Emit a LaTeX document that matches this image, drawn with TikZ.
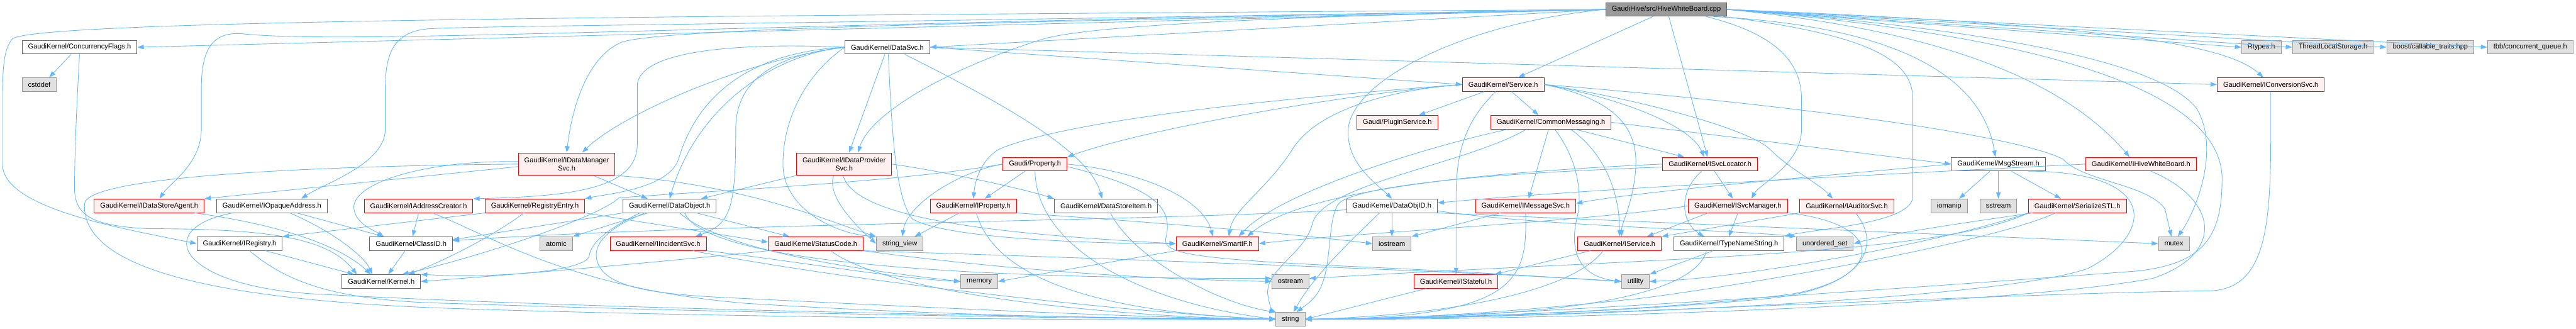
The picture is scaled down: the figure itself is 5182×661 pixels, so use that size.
\documentclass[tikz,border=0pt]{standalone}
\usepackage{fontspec}
\setmainfont{Liberation Sans}
\usepackage{tikz}
\usetikzlibrary{arrows.meta}

\definecolor{edgeblue}{HTML}{63B8FF}
\definecolor{redfill}{HTML}{FFF0F0}
\definecolor{sysfill}{HTML}{E0E0E0}
\definecolor{sysline}{HTML}{999999}
\definecolor{fileline}{HTML}{666666}
\definecolor{topfill}{HTML}{999999}

\begin{document}
\begin{tikzpicture}[x=1pt, y=-1pt,
    box/.style={rectangle, line width=1.2pt, minimum height=27.4pt, inner xsep=12pt, inner ysep=3pt, font=\fontsize{14}{17}\selectfont},
    file/.style={box, draw=fileline, fill=white},
    redfile/.style={box, draw=red, fill=redfill},
    sysfile/.style={box, draw=sysline, fill=sysfill},
    topfile/.style={box, draw=fileline, fill=topfill},
    twoline/.style={align=center, minimum height=45pt},
    dep/.style={draw=edgeblue, line width=1.1pt, -{Triangle[length=13pt,width=9pt]}}]

	% Canvas
	\fill[white] (0,0) rectangle (5182,661);
	\useasboundingbox (0,0) rectangle (5182,661);

	% The source file
	\node[topfile] (hwb) at (3352,19) {GaudiHive/src/HiveWhiteBoard.cpp};

	% Row 1
	\node[file] (conc) at (160,95) {GaudiKernel/ConcurrencyFlags.h};
	\node[file] (datasvc) at (1785,95) {GaudiKernel/DataSvc.h};
	\node[sysfile] (rtypes) at (4549,95) {Rtypes.h};
	\node[sysfile] (tls) at (4693,95) {ThreadLocalStorage.h};
	\node[sysfile] (boostct) at (4889,95) {boost/callable\_traits.hpp};
	\node[sysfile] (tbbq) at (5090,95) {tbb/concurrent\_queue.h};

	% Row 2
	\node[sysfile] (cstddef) at (79,170) {cstddef};
	\node[redfile] (service) at (3024,170) {GaudiKernel/Service.h};
	\node[redfile] (iconv) at (4568,170) {GaudiKernel/IConversionSvc.h};

	% Row 3
	\node[redfile] (plugin) at (2811,246) {Gaudi/PluginService.h};
	\node[redfile] (commsg) at (3120,246) {GaudiKernel/CommonMessaging.h};

	% Row 4
	\node[redfile, twoline] (dmgr) at (1140,330) {GaudiKernel/IDataManager\\Svc.h};
	\node[redfile, twoline] (dprov) at (1698,330) {GaudiKernel/IDataProvider\\Svc.h};
	\node[redfile] (prop) at (2082,330) {Gaudi/Property.h};
	\node[redfile] (svcloc) at (3440,330) {GaudiKernel/ISvcLocator.h};
	\node[file] (msgstream) at (4020,330) {GaudiKernel/MsgStream.h};
	\node[redfile] (ihwb) at (4307,330) {GaudiKernel/IHiveWhiteBoard.h};

	% Row 5
	\node[redfile] (dstore) at (300,414) {GaudiKernel/IDataStoreAgent.h};
	\node[file] (opaque) at (547,414) {GaudiKernel/IOpaqueAddress.h};
	\node[redfile] (addr) at (842,414) {GaudiKernel/IAddressCreator.h};
	\node[redfile] (regent) at (1076,414) {GaudiKernel/RegistryEntry.h};
	\node[file] (dobj) at (1347,414) {GaudiKernel/DataObject.h};
	\node[redfile] (iprop) at (1958,414) {GaudiKernel/IProperty.h};
	\node[file] (dsitem) at (2225,414) {GaudiKernel/DataStoreItem.h};
	\node[file] (objid) at (2800,414) {GaudiKernel/DataObjID.h};
	\node[redfile] (msgsvc) at (3069,414) {GaudiKernel/IMessageSvc.h};
	\node[redfile] (svcmgr) at (3496,414) {GaudiKernel/ISvcManager.h};
	\node[redfile] (auditor) at (3715,414) {GaudiKernel/IAuditorSvc.h};
	\node[sysfile] (iomanip) at (3921,414) {iomanip};
	\node[sysfile] (sstream) at (4020,414) {sstream};
	\node[redfile] (serstl) at (4179,414) {GaudiKernel/SerializeSTL.h};

	% Row 6
	\node[file] (ireg) at (482,490) {GaudiKernel/IRegistry.h};
	\node[file] (classid) at (827,490) {GaudiKernel/ClassID.h};
	\node[sysfile] (atomic) at (1119,490) {atomic};
	\node[redfile] (incid) at (1324,490) {GaudiKernel/IIncidentSvc.h};
	\node[redfile] (status) at (1641,490) {GaudiKernel/StatusCode.h};
	\node[sysfile] (strview) at (1810,490) {string\_view};
	\node[redfile] (smartif) at (2449,490) {GaudiKernel/SmartIF.h};
	\node[sysfile] (iostream) at (2800,490) {iostream};
	\node[redfile] (iservice) at (3258,490) {GaudiKernel/IService.h};
	\node[file] (tnstring) at (3478,490) {GaudiKernel/TypeNameString.h};
	\node[sysfile] (uset) at (3671,490) {unordered\_set};
	\node[sysfile] (mutex) at (4373,490) {mutex};

	% Row 7
	\node[file] (kernel) at (767,566) {GaudiKernel/Kernel.h};
	\node[sysfile] (memory) at (1970,566) {memory};
	\node[sysfile] (ostream) at (2596,566) {ostream};
	\node[redfile] (stateful) at (2929,566) {GaudiKernel/IStateful.h};
	\node[sysfile] (utility) at (3290,566) {utility};

	% Row 8
	\node[sysfile] (string) at (2596,642) {string};

	% Includes of the source file
	\draw[dep] (hwb.west) -- (conc.east);
	\draw[dep] (hwb.west) .. controls (1500,32) and (80,38) .. (25,78) .. controls (5,100) and (5,150) .. (5,220) -- (5,330) .. controls (5,420) and (250,460) .. (ireg.west);
	\draw[dep] (hwb.west) .. controls (1400,50) and (700,90) .. (488,68) .. controls (420,62) and (405,110) .. (405,180) -- (405,260) .. controls (405,330) and (340,370) .. ([xshift=21pt]dstore.north);
	\draw[dep] (hwb.west) .. controls (1500,50) and (950,52) .. (860,58) .. controls (790,65) and (775,110) .. (775,180) -- (775,260) .. controls (775,330) and (650,370) .. ([xshift=59pt]opaque.north);
	\draw[dep] (hwb.west) .. controls (2400,40) and (1350,50) .. (1250,85) .. controls (1180,115) and (1150,220) .. (dmgr.north);
	\draw[dep] (hwb.west) .. controls (2600,32) and (2200,50) .. (2100,78) .. controls (1900,140) and (1750,230) .. ([xshift=28pt]dprov.north);
	\draw[dep] (hwb.west) -- (datasvc.east);
	\draw[dep] ([xshift=-27pt]hwb.south) -- ([xshift=30pt]service.north);
	\draw[dep] ([xshift=5pt]hwb.south) -- ([xshift=-5pt]svcloc.north);
	\draw[dep] (hwb.west) .. controls (2950,45) and (2720,160) .. (2712,260) .. controls (2708,330) and (2770,370) .. (objid.north);
	\draw[dep] ([xshift=95pt]hwb.south) .. controls (3850,55) and (3990,170) .. ([xshift=-6pt]msgstream.north);
	\draw[dep] (hwb.east) .. controls (3900,60) and (4150,160) .. ([xshift=-23pt]ihwb.north);
	\draw[dep] ([xshift=80pt]hwb.south) .. controls (3580,70) and (3624,130) .. (3624,200) -- (3624,260) .. controls (3624,330) and (3540,370) .. ([xshift=27pt]svcmgr.north);
	\draw[dep] ([xshift=115pt]hwb.south) .. controls (3760,70) and (3848,120) .. (3848,200) -- (3848,395) .. controls (3848,450) and (3650,460) .. (tnstring.north east);
	\draw[dep] (hwb.east) -- (rtypes.west);
	\draw[dep] (hwb.east) -- (tls.west);
	\draw[dep] (hwb.east) -- (boostct.west);
	\draw[dep] (hwb.east) -- (tbbq.west);
	\draw[dep] (hwb.east) .. controls (4250,50) and (4480,90) .. ([xshift=-15pt]iconv.north);
	\draw[dep] (hwb.east) .. controls (3900,50) and (4340,110) .. (4420,220) .. controls (4465,300) and (4420,420) .. ([xshift=8pt]mutex.north);
	\draw[dep] (hwb.east) .. controls (4100,70) and (4470,180) .. (4470,360) .. controls (4470,480) and (4430,530) .. (4300,545) .. controls (3900,575) and (3000,640) .. (string.east);

	% DataSvc.h
	\draw[dep] (datasvc.west) .. controls (1550,88) and (1290,90) .. (1282,170) -- (1282,290) .. controls (1282,380) and (1150,395) .. (addr.north east);
	\draw[dep] (datasvc.west) .. controls (1500,120) and (1250,230) .. ([xshift=31pt]dmgr.north);
	\draw[dep] ([xshift=-5pt]datasvc.south) -- ([xshift=10pt]dprov.north);
	\draw[dep] (datasvc.west) .. controls (1500,105) and (1400,200) .. (1365,320) .. controls (1345,380) and (1220,390) .. (regent.north east);
	\draw[dep] (datasvc.west) .. controls (1550,110) and (1400,220) .. (dobj.north);
	\draw[dep] (datasvc.west) .. controls (1560,110) and (1480,160) .. (1480,260) .. controls (1480,420) and (1470,450) .. ([xshift=75pt]incid.north);
	\draw[dep] (datasvc.west) .. controls (1620,150) and (1575,240) .. (1575,330) .. controls (1575,420) and (1680,470) .. (strview.north west);
	\draw[dep] ([xshift=2pt]datasvc.south) .. controls (1795,300) and (1805,400) .. (1835,440) .. controls (1900,480) and (2200,490) .. (smartif.west);
	\draw[dep] ([xshift=35pt]datasvc.south) .. controls (2000,200) and (2190,300) .. ([xshift=-8pt]dsitem.north);
	\draw[dep] (datasvc.east) -- (service.west);
	\draw[dep] (datasvc.east) -- (iconv.west);

	% Service.h
	\draw[dep] (service.west) .. controls (2700,190) and (2300,260) .. (prop.north east);
	\draw[dep] (service.west) .. controls (2600,195) and (2150,240) .. (2010,300) .. controls (1975,320) and (1962,360) .. (iprop.north);
	\draw[dep] ([xshift=-38pt]service.south) -- ([xshift=43pt]plugin.north);
	\draw[dep] ([xshift=17pt]service.south) -- ([xshift=-25pt]commsg.north);
	\draw[dep] ([xshift=-15pt]service.south) .. controls (2940,250) and (2929,320) .. (2929,400) -- (stateful.north);
	\draw[dep] (service.east) .. controls (3250,195) and (3400,250) .. ([xshift=-12pt]svcloc.north);
	\draw[dep] (service.east) .. controls (3300,210) and (3300,300) .. (3285,380) .. controls (3275,430) and (3262,450) .. ([xshift=4pt]iservice.north);
	\draw[dep] (service.east) .. controls (3300,200) and (3520,260) .. (3560,300) .. controls (3600,340) and (3660,370) .. ([xshift=-28pt]auditor.north);
	\draw[dep] (service.west) .. controls (2800,180) and (2650,220) .. (2600,300) .. controls (2550,380) and (2480,420) .. ([xshift=23pt]smartif.north);
	\draw[dep] (service.east) .. controls (3600,210) and (4050,270) .. (4150,320) .. controls (4190,365) and (4320,370) .. (4355,420) -- ([xshift=-5pt]mutex.north);

	% CommonMessaging.h
	\draw[dep] ([xshift=-5pt]commsg.south) -- ([xshift=6pt]msgsvc.north);
	\draw[dep] ([xshift=50pt]commsg.south) -- ([xshift=-52pt]svcloc.north);
	\draw[dep] ([xshift=40pt]commsg.south) .. controls (3230,310) and (3258,390) .. (iservice.north);
	\draw[dep] ([xshift=8pt]commsg.south) .. controls (3180,330) and (3182,400) .. (3172,440) .. controls (3160,490) and (3165,555) .. (utility.west);
	\draw[dep] (commsg.east) -- (msgstream.west);
	\draw[dep] ([xshift=-88pt]commsg.south) .. controls (2850,300) and (2570,390) .. ([xshift=43pt]smartif.north);
	\draw[dep] ([xshift=-50pt]commsg.south) .. controls (2950,330) and (2660,370) .. (2640,450) .. controls (2625,510) and (2548,540) .. (2550,590) .. controls (2552,610) and (2560,625) .. (string.north west);

	% ISvcLocator.h
	\draw[dep] ([xshift=9pt]svcloc.south) -- ([xshift=-10pt]svcmgr.north);
	\draw[dep] ([xshift=-17pt]svcloc.south) .. controls (3372,390) and (3385,450) .. ([xshift=-50pt]tnstring.north);
	\draw[dep] (svcloc.west) .. controls (3000,345) and (2620,380) .. ([xshift=60pt]smartif.north);
	\draw[dep] ([yshift=-6pt]svcloc.west) .. controls (2900,352) and (2740,380) .. (2698,405) .. controls (2670,425) and (2680,520) .. (2660,570) .. controls (2650,600) and (2625,615) .. ([xshift=12pt]string.north);

	% DataObjID.h
	\draw[dep] (objid.south) -- (iostream.north);
	\draw[dep] ([xshift=-25pt]objid.south) .. controls (2700,500) and (2640,560) .. ([xshift=6pt]string.north);
	\draw[dep] ([yshift=-8pt]objid.west) .. controls (2300,445) and (1400,450) .. ([yshift=6pt]classid.east);
	\draw[dep] (objid.south east) -- (mutex.west);
	\draw[dep] ([yshift=-10pt]objid.east) .. controls (3100,455) and (3480,462) .. (uset.north west);

	% IMessageSvc.h, IService.h, IStateful.h
	\draw[dep] ([xshift=-51pt]msgsvc.south) -- (iostream.north east);
	\draw[dep] (msgsvc.south) .. controls (3072,560) and (3060,640) .. (string.east);
	\draw[dep] ([xshift=-59pt]iservice.south) -- ([xshift=78pt]stateful.north);
	\draw[dep] ([xshift=-33pt]iservice.south) .. controls (3160,590) and (2900,635) .. (string.east);
	\draw[dep] ([xshift=-60pt]stateful.south) -- (string.east);

	% TypeNameString.h, ISvcManager.h, IAuditorSvc.h
	\draw[dep] ([xshift=-32pt]tnstring.south) -- (utility.north east);
	\draw[dep] ([xshift=-45pt]tnstring.south) .. controls (3400,620) and (3000,640) .. (string.east);
	\draw[dep] (svcmgr.south) -- (tnstring.north);
	\draw[dep] ([xshift=-60pt]svcmgr.south) -- ([xshift=55pt]iservice.north);
	\draw[dep] (svcmgr.west) .. controls (3200,445) and (2700,470) .. (smartif.east);
	\draw[dep] (svcmgr.south east) .. controls (3800,450) and (3790,560) .. (3600,592) .. controls (3300,630) and (2800,642) .. (string.east);
	\draw[dep] (auditor.south west) -- (iservice.north east);
	\draw[dep] ([xshift=18pt]auditor.south) .. controls (3790,500) and (3740,580) .. (3560,600) .. controls (3260,630) and (2800,642) .. (string.east);

	% MsgStream.h
	\draw[dep] ([xshift=-17pt]msgstream.south) -- ([xshift=20pt]iomanip.north);
	\draw[dep] (msgstream.south) -- (sstream.north);
	\draw[dep] ([xshift=26pt]msgstream.south) -- ([xshift=-33pt]serstl.north);
	\draw[dep] (msgstream.west) .. controls (3650,355) and (3300,385) .. ([yshift=5pt]msgsvc.east);
	\draw[dep] ([xshift=60pt]msgstream.south) .. controls (4345,345) and (4335,470) .. (4200,540) .. controls (4000,610) and (3000,642) .. (string.east);

	% SerializeSTL.h
	\draw[dep] ([xshift=-90pt]serstl.south) .. controls (3950,448) and (3800,470) .. (uset.east);
	\draw[dep] (serstl.south west) .. controls (3900,515) and (3300,520) .. ([yshift=6pt]ostream.east);
	\draw[dep] ([xshift=-44pt]serstl.south) .. controls (4000,490) and (3500,575) .. (3300,600) .. controls (3000,632) and (2800,642) .. (string.east);
	\draw[dep] (serstl.south west) .. controls (3900,490) and (3500,560) .. (utility.east);

	% IHiveWhiteBoard.h, IConversionSvc.h
	\draw[dep] (ihwb.west) .. controls (3700,355) and (3200,380) .. ([yshift=6pt]objid.east);
	\draw[dep] ([xshift=20pt]ihwb.south) .. controls (4460,400) and (4480,510) .. (4330,560) .. controls (4000,620) and (3000,645) .. (string.east);
	\draw[dep] (iconv.south) .. controls (4568,420) and (4575,585) .. (4440,585) .. controls (4000,590) and (3000,645) .. (string.east);

	% Property.h, IProperty.h, DataStoreItem.h, SmartIF.h
	\draw[dep] ([xshift=-20pt]prop.south) -- ([xshift=23pt]iprop.north);
	\draw[dep] (prop.west) .. controls (1930,345) and (1825,410) .. ([xshift=5pt]strview.north);
	\draw[dep] (prop.east) .. controls (2300,345) and (2420,400) .. ([xshift=-9pt]smartif.north);
	\draw[dep] ([yshift=-5pt]prop.east) .. controls (2330,380) and (2360,420) .. (2345,480) .. controls (2340,510) and (2400,520) .. (2700,535) .. controls (3000,548) and (3150,560) .. (utility.west);
	\draw[dep] (prop.south) .. controls (2085,500) and (2300,610) .. (string.west);
	\draw[dep] (prop.west) .. controls (1800,368) and (1400,385) .. (1245,398) .. controls (1200,440) and (950,520) .. ([xshift=42pt]kernel.north);
	\draw[dep] ([xshift=-28pt]iprop.south) -- ([xshift=30pt]strview.north);
	\draw[dep] ([xshift=6pt]iprop.south) .. controls (1990,520) and (2110,625) .. (string.west);
	\draw[dep] (iprop.south east) .. controls (2300,445) and (2600,470) .. (iostream.west);
	\draw[dep] ([xshift=9pt]dsitem.south) .. controls (2280,520) and (2450,610) .. (string.north west);
	\draw[dep] (smartif.south west) -- (memory.east);

	% IDataProviderSvc.h, IDataManagerSvc.h
	\draw[dep] (dprov.south west) -- ([xshift=63pt]dobj.north);
	\draw[dep] ([xshift=-21pt]dprov.south) .. controls (1660,400) and (1740,470) .. (strview.west);
	\draw[dep] ([xshift=-2pt]dprov.south) .. controls (1720,440) and (2000,470) .. (smartif.west);
	\draw[dep] (dprov.east) .. controls (1900,345) and (2060,380) .. (dsitem.north west);
	\draw[dep] ([yshift=-5pt]dmgr.west) -- (dstore.north east);
	\draw[dep] (dmgr.west) .. controls (700,333) and (175,350) .. (170,410) .. controls (165,520) and (350,600) .. (900,620) .. controls (1500,640) and (2300,645) .. (string.west);
	\draw[dep] ([yshift=5pt]dmgr.west) .. controls (850,322) and (705,370) .. (712,420) .. controls (716,450) and (750,462) .. ([xshift=-55pt]classid.north);
	\draw[dep] ([xshift=54pt]dmgr.south) -- ([xshift=-44pt]dobj.north);
	\draw[dep] (dmgr.south east) .. controls (1500,370) and (1680,450) .. (strview.north west);

	% RegistryEntry.h
	\draw[dep] (regent.south west) -- (ireg.north east);
	\draw[dep] ([xshift=-22pt]regent.south) .. controls (985,480) and (880,530) .. ([xshift=54pt]kernel.north);
	\draw[dep] (regent.south east) -- ([yshift=3pt]status.west);

	% DataObject.h
	\draw[dep] (dobj.south west) -- ([yshift=8pt]classid.east);
	\draw[dep] ([xshift=-44pt]dobj.south) -- (atomic.north east);
	\draw[dep] ([xshift=-60pt]dobj.south) .. controls (1225,460) and (1190,485) .. (1185,515) .. controls (1180,545) and (1000,560) .. (kernel.north east);
	\draw[dep] ([xshift=54pt]dobj.south) -- ([xshift=-53pt]status.north);
	\draw[dep] ([xshift=20pt]dobj.south) .. controls (1450,500) and (1700,540) .. (memory.west);
	\draw[dep] ([xshift=30pt]dobj.south) .. controls (1420,525) and (1900,560) .. ([yshift=6pt]ostream.west);
	\draw[dep] ([xshift=-50pt]dobj.south) .. controls (1220,460) and (1195,490) .. (1200,520) .. controls (1210,575) and (1300,590) .. (1450,598) .. controls (1800,615) and (2300,640) .. (string.west);

	% IIncidentSvc.h, StatusCode.h
	\draw[dep] ([xshift=70pt]incid.south) .. controls (1700,565) and (2300,632) .. (string.west);
	\draw[dep] (incid.south east) .. controls (1600,525) and (1800,560) .. (memory.west);
	\draw[dep] (status.south west) .. controls (1300,530) and (1000,555) .. (kernel.east);
	\draw[dep] (status.south east) .. controls (2000,540) and (2300,562) .. (ostream.west);
	\draw[dep] (status.south east) .. controls (2300,522) and (3000,548) .. (utility.west);
	\draw[dep] ([xshift=30pt]status.south) .. controls (1800,600) and (2300,640) .. (string.west);

	% IOpaqueAddress.h, IRegistry.h, ClassID.h, IAddressCreator.h
	\draw[dep] ([xshift=50pt]opaque.south) -- ([xshift=-55pt]classid.north);
	\draw[dep] ([xshift=36pt]opaque.south) .. controls (680,470) and (735,520) .. ([xshift=-18pt]kernel.north);
	\draw[dep] ([xshift=-79pt]opaque.south) .. controls (300,460) and (360,580) .. (650,592) .. controls (1200,622) and (2200,640) .. (string.west);
	\draw[dep] ([xshift=52pt]ireg.south) -- ([xshift=-55pt]kernel.north);
	\draw[dep] ([xshift=20pt]ireg.south) .. controls (580,570) and (680,605) .. (900,610) .. controls (1500,630) and (2200,642) .. (string.west);
	\draw[dep] ([xshift=-12pt]classid.south) -- ([xshift=14pt]kernel.north);
	\draw[dep] (addr.south) -- ([xshift=3pt]classid.north);
	\draw[dep] ([xshift=28pt]addr.south) .. controls (1000,480) and (1150,580) .. (1500,610) .. controls (1900,635) and (2300,642) .. (string.west);

	% ConcurrencyFlags.h, IDataStoreAgent.h
	\draw[dep] ([xshift=-17pt]conc.south) -- ([xshift=20pt]cstddef.north);
	\draw[dep] (conc.south) .. controls (155,200) and (150,300) .. (150,380) .. controls (150,440) and (200,455) .. (300,460) .. controls (550,460) and (660,480) .. ([xshift=-49pt]kernel.north);
	\draw[dep] ([xshift=92pt]dstore.south) .. controls (550,450) and (680,490) .. ([xshift=-21pt]kernel.north);
\end{tikzpicture}
\end{document}
